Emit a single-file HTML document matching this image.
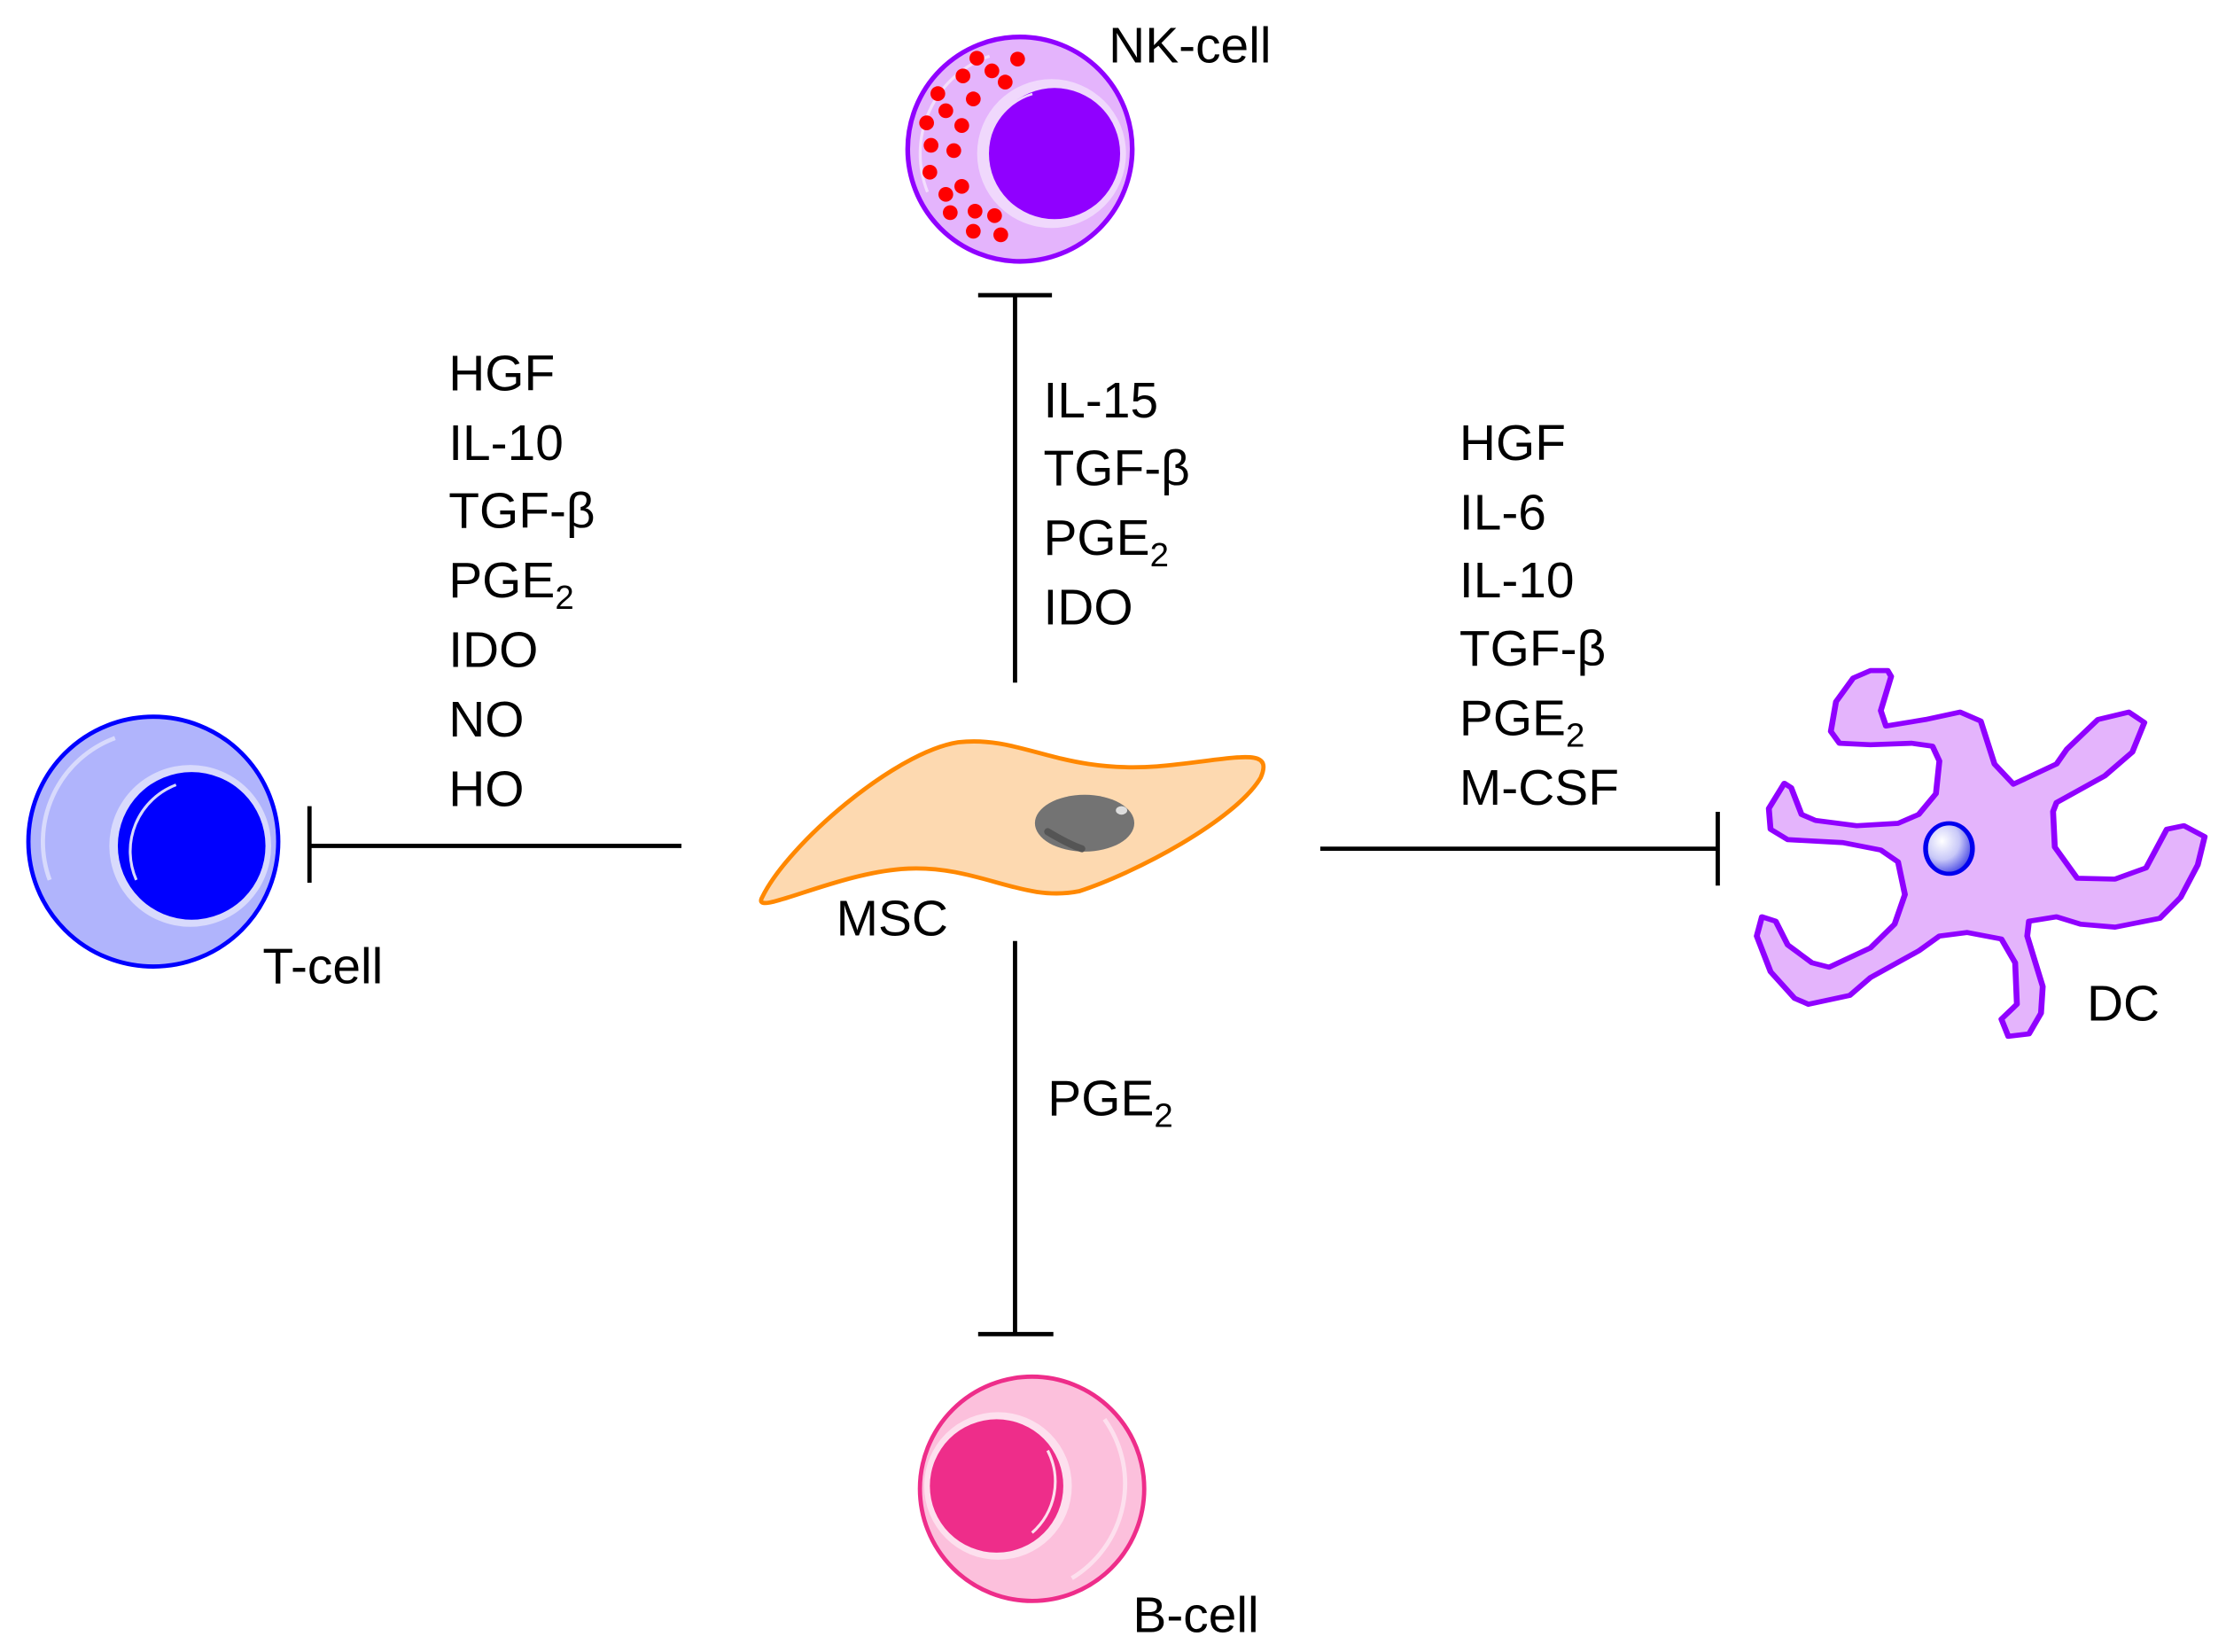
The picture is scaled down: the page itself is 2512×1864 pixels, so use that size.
<!DOCTYPE html>
<html><head><meta charset="utf-8"><style>
html,body{margin:0;padding:0;background:#fff;}
svg{display:block;}
text{font-family:"Liberation Sans",Arial,sans-serif;font-size:35.5px;fill:#000;}
</style></head><body>
<svg width="2512" height="1864" viewBox="0 0 1568 1164" preserveAspectRatio="none" xmlns="http://www.w3.org/2000/svg">
<defs>
<radialGradient id="dcn" cx="0.35" cy="0.35" r="0.75">
<stop offset="0" stop-color="#ffffff"/><stop offset="0.5" stop-color="#c8c8f8"/><stop offset="1" stop-color="#3030e0"/>
</radialGradient>
</defs>
<rect width="1568" height="1164" fill="#fff"/>

<!-- NK cell -->
<g transform="translate(624.2,0) scale(0.2081)">
<circle cx="453" cy="505" r="380" fill="#e4b4fc" stroke="#9000ff" stroke-width="16"/>
<path d="M140 650 A350 350 0 0 1 350 190" fill="none" stroke="#f3defd" stroke-width="10"/>
<circle cx="560" cy="520" r="252" fill="#f0d8fc"/>
<circle cx="570" cy="520" r="222" fill="#9000ff"/>
<path d="M360 610 A215 215 0 0 1 495 318" fill="none" stroke="#f0d8fc" stroke-width="8"/>
<g fill="#ff0000">
<circle cx="307" cy="197" r="25"/><circle cx="445" cy="200" r="25"/><circle cx="260" cy="257" r="25"/>
<circle cx="358" cy="240" r="25"/><circle cx="403" cy="278" r="25"/><circle cx="175" cy="317" r="25"/>
<circle cx="295" cy="335" r="25"/><circle cx="202" cy="375" r="25"/><circle cx="137" cy="416" r="25"/>
<circle cx="256" cy="425" r="25"/><circle cx="152" cy="492" r="25"/><circle cx="229" cy="510" r="25"/>
<circle cx="148" cy="583" r="25"/><circle cx="256" cy="631" r="25"/><circle cx="202" cy="658" r="25"/>
<circle cx="217" cy="720" r="25"/><circle cx="301" cy="715" r="25"/><circle cx="367" cy="730" r="25"/>
<circle cx="295" cy="783" r="25"/><circle cx="388" cy="795" r="25"/>
</g>
</g>
<text x="781" y="44">NK-cell</text>

<!-- T cell -->
<circle cx="108" cy="593" r="88" fill="#b0b4fc" stroke="#0000ff" stroke-width="3"/>
<path d="M35 620 A78 78 0 0 1 81 520" fill="none" stroke="#d8dafc" stroke-width="3"/>
<circle cx="134" cy="596" r="57" fill="#d8dafc"/>
<circle cx="135" cy="596" r="52" fill="#0000ff"/>
<path d="M96 620 A50 50 0 0 1 124 553" fill="none" stroke="#d8dafc" stroke-width="2"/>
<text x="185" y="693">T-cell</text>

<!-- B cell -->
<circle cx="727" cy="1049" r="79" fill="#fcc0dc" stroke="#ee2d8a" stroke-width="3"/>
<path d="M778 1000 A78 78 0 0 1 755 1112" fill="none" stroke="#fde0ee" stroke-width="3"/>
<circle cx="703" cy="1047" r="52" fill="#fde0ee"/>
<circle cx="702" cy="1047" r="47" fill="#ee2d8a"/>
<path d="M738 1022 A48 48 0 0 1 727 1080" fill="none" stroke="#fde0ee" stroke-width="2"/>
<text x="798" y="1150">B-cell</text>

<!-- MSC -->
<path d="M537 632 C555 595,630 530,675 523 C720 518,745 545,815 540 C870 535,898 525,888 548 C870 578,800 615,760 628 C720 636,690 610,640 612 C590 614,528 648,537 632 Z" fill="#fdd9b0" stroke="#ff8800" stroke-width="3"/>
<ellipse cx="764" cy="580" rx="35" ry="20" fill="#737373"/>
<path d="M738 586 C748 592,756 596,762 598" stroke="#555" stroke-width="5" stroke-linecap="round" fill="none"/>
<ellipse cx="790" cy="571" rx="4" ry="3" fill="#ddd"/>
<text x="589" y="659">MSC</text>

<!-- DC -->
<g transform="translate(1186.5,438) scale(0.2427,0.209)">
<path d="M600 185 L570 300 L585 352 L700 330 L800 305 L860 335 L900 480 L955 548 L1080 480 L1110 430 L1200 330 L1290 305 L1335 340 L1300 440 L1220 520 L1080 610 L1070 640 L1075 760 L1140 865 L1250 868 L1340 830 L1400 700 L1450 688 L1510 725 L1490 820 L1440 930 L1380 1000 L1250 1030 L1150 1020 L1080 995 L1000 1010 L995 1060 L1040 1230 L1035 1320 L1000 1390 L940 1398 L920 1340 L965 1290 L960 1150 L920 1070 L820 1048 L740 1060 L680 1110 L540 1200 L480 1260 L360 1290 L320 1270 L250 1180 L210 1060 L225 995 L265 1010 L300 1090 L370 1150 L420 1165 L540 1100 L610 1020 L640 920 L620 810 L570 770 L460 745 L300 735 L250 700 L245 630 L290 545 L310 560 L340 650 L380 670 L500 688 L620 680 L680 650 L730 580 L740 470 L720 420 L660 410 L540 415 L450 410 L425 370 L440 270 L490 190 L540 165 L590 165 Z" fill="#e4b4fc" stroke="#9000ff" stroke-width="17" stroke-linejoin="round"/>
<ellipse cx="768" cy="765" rx="68" ry="85" fill="url(#dcn)" stroke="#0000ee" stroke-width="14"/>
</g>
<text x="1470" y="719">DC</text>

<!-- Connectors -->
<g stroke="#000" stroke-width="3" fill="none">
<line x1="715" y1="208" x2="715" y2="481"/><line x1="689" y1="208" x2="741" y2="208"/>
<line x1="218" y1="596" x2="480" y2="596"/><line x1="218" y1="568" x2="218" y2="622"/>
<line x1="930" y1="598" x2="1210" y2="598"/><line x1="1210" y1="572" x2="1210" y2="624"/>
<line x1="715" y1="663" x2="715" y2="940"/><line x1="689" y1="940" x2="742" y2="940"/>
</g>

<!-- Left labels -->
<text x="316" y="275">HGF</text>
<text x="316" y="324">IL-10</text>
<text x="316" y="372">TGF-β</text>
<text x="316" y="421">PGE<tspan font-size="24" dy="8">2</tspan></text>
<text x="316" y="470">IDO</text>
<text x="316" y="519">NO</text>
<text x="316" y="568">HO</text>

<!-- NK labels -->
<text x="735" y="294">IL-15</text>
<text x="735" y="342">TGF-β</text>
<text x="735" y="391">PGE<tspan font-size="24" dy="8">2</tspan></text>
<text x="735" y="440">IDO</text>

<!-- DC labels -->
<text x="1028" y="324">HGF</text>
<text x="1028" y="373">IL-6</text>
<text x="1028" y="421">IL-10</text>
<text x="1028" y="469">TGF-β</text>
<text x="1028" y="518">PGE<tspan font-size="24" dy="8">2</tspan></text>
<text x="1028" y="567">M-CSF</text>

<!-- B label -->
<text x="738" y="786">PGE<tspan font-size="24" dy="8">2</tspan></text>
</svg>
</body></html>
